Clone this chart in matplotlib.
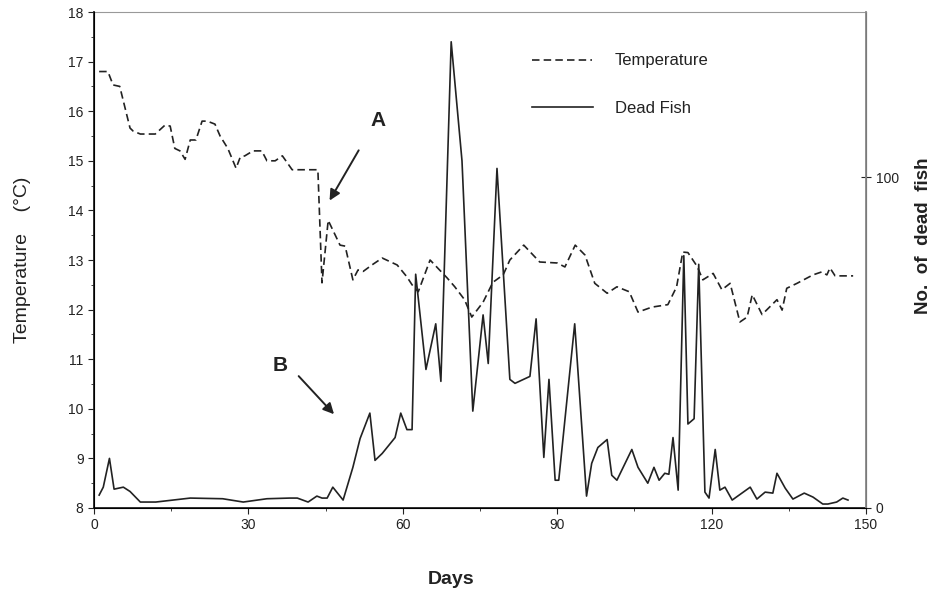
import matplotlib.pyplot as plt
from matplotlib.ticker import MultipleLocator

plt.rcParams['font.family'] = ['Liberation Sans', 'DejaVu Sans']

# temperature readings (left axis, deg C)
temp_days = [1, 2.7, 3.7, 5, 7, 7.6, 9, 11.9, 13.8, 14.8, 15.7, 16.7, 17.7, 18.7, 19.8,
             21, 22, 23.5, 24.5, 26, 27.6, 28.4, 29.3, 30.9, 32.6, 33.6, 35.2, 36.6, 38.5,
             43.5, 44.3, 45.5, 47.8, 48.8, 50.3, 51.3, 52.3, 54, 56, 58.9, 60.8, 61.8, 63,
             65.3, 68.6, 70.1, 72, 73.4, 75.6, 77.5, 79.5, 80.8, 83.5, 86.6, 90, 91.5, 93.5,
             95.4, 97.3, 99.7, 101.6, 104, 105.7, 108.4, 111.5, 113.2, 114.4, 115.4, 117.2,
             118.3, 120.3, 122, 123.6, 125.5, 126.9, 127.9, 129.8, 132.7, 133.7, 134.6,
             136.6, 139.7, 141.4, 142.4, 143, 144, 147.5]
temp_vals = [16.8, 16.8, 16.53, 16.5, 15.66, 15.6, 15.54, 15.54, 15.72, 15.7, 15.25, 15.2,
             15.03, 15.42, 15.42, 15.8, 15.8, 15.74, 15.5, 15.25, 14.85, 15.07, 15.1, 15.2,
             15.2, 15.0, 15.0, 15.1, 14.82, 14.82, 12.54, 13.8, 13.3, 13.28, 12.6, 12.8,
             12.77, 12.9, 13.04, 12.9, 12.66, 12.5, 12.36, 13.0, 12.64, 12.46, 12.2, 11.85,
             12.15, 12.55, 12.7, 13.0, 13.3, 12.96, 12.94, 12.86, 13.3, 13.1, 12.53, 12.33,
             12.46, 12.36, 11.95, 12.05, 12.1, 12.46, 13.16, 13.15, 12.87, 12.6, 12.73, 12.4,
             12.53, 11.75, 11.85, 12.3, 11.9, 12.2, 11.99, 12.43, 12.53, 12.7, 12.76, 12.7,
             12.84, 12.68, 12.68]

# number of dead fish (right axis)
fish_days = [1, 1.8, 3, 3.9, 5.7, 7, 9, 12, 18.7, 25, 29, 33.6, 38, 39.5, 41.6, 43.3, 44.3,
             45.3, 46.4, 48.4, 50.3, 51.7, 53.6, 54.6, 56, 58.5, 59.6, 60.8, 61.8, 62.5, 64.5,
             66.4, 67.4, 69.4, 71.5, 73.6, 75.6, 76.6, 78.3, 80.8, 81.8, 84.7, 85.9, 87.4,
             88.4, 89.6, 90.3, 93.4, 95.7, 96.7, 97.9, 99.7, 100.6, 101.6, 104.5, 105.7,
             107.6, 108.8, 109.8, 110.9, 111.7, 112.5, 113.5, 114.6, 115.4, 116.6, 117.5,
             118.7, 119.5, 120.7, 121.6, 122.6, 124, 127.5, 128.8, 130.4, 131.9, 132.7,
             134.3, 135.8, 138, 139.7, 141.6, 142.6, 144.3, 145.5, 146.5]
fish_vals = [3.9, 6.3, 15, 5.7, 6.3, 5, 1.8, 1.8, 3, 2.8, 1.8, 2.8, 3, 3, 1.8, 3.6, 3, 3,
             6.3, 2.4, 12.3, 21, 28.7, 14.4, 16.5, 21.3, 28.7, 23.7, 23.7, 70.7, 41.9, 55.7,
             38.3, 141, 105, 29.3, 58.4, 43.7, 102.7, 38.9, 37.7, 39.8, 57.2, 15.3, 38.9, 8.4,
             8.4, 55.7, 3.6, 13.5, 18.3, 20.7, 9.9, 8.4, 17.7, 12.3, 7.5, 12.3, 8.4, 10.5,
             10.2, 21.3, 5.4, 76.3, 25.4, 27, 73.7, 4.8, 3, 17.7, 5.4, 6.3, 2.4, 6.3, 2.7,
             4.8, 4.5, 10.5, 6, 2.7, 4.5, 3.3, 1.2, 1.2, 1.8, 3, 2.4]

ink = '#222222'
dash = (4.5, 2.5)

fig = plt.figure(figsize=(9.41, 5.92), dpi=100)
ax = fig.add_axes([0.0999, 0.1419, 0.8204, 0.8378])
ax2 = ax.twinx()

ax.plot(temp_days, temp_vals, color=ink, lw=1.2, dashes=dash)
ax2.plot(fish_days, fish_vals, color=ink, lw=1.2)

ax.set_xlim(0, 150)
ax.set_ylim(8, 18)
ax2.set_ylim(0, 150)

ax.xaxis.set_major_locator(MultipleLocator(30))
ax.xaxis.set_minor_locator(MultipleLocator(15))
ax.yaxis.set_major_locator(MultipleLocator(1))
ax.yaxis.set_minor_locator(MultipleLocator(0.5))
ax.tick_params(axis='both', which='major', direction='out', length=4, labelsize=10,
               color=ink, labelcolor=ink)
ax.tick_params(axis='both', which='minor', direction='out', length=2.5, color=ink)
ax2.set_yticks([0, 100])
ax2.tick_params(axis='y', direction='inout', length=7, labelsize=10, color=ink,
                labelcolor=ink)

for s in ['left', 'bottom']:
    ax.spines[s].set_color(ink)
    ax.spines[s].set_linewidth(1.3)
ax.spines['top'].set_color('#999999')
ax2.spines['top'].set_visible(False)
ax2.spines['right'].set_color('#888888')
ax2.spines['right'].set_linewidth(1.3)

# axis titles placed in figure pixels
W, H = 941, 592
fig.text(23 / W, 1 - 260 / H, 'Temperature    (°C)', fontsize=14, color=ink,
         rotation=90, ha='center', va='center')
fig.text(923 / W, 1 - 236 / H, 'No.  of  dead  fish', fontsize=13.5, fontweight='bold',
         color=ink, rotation=90, ha='center', va='center')
fig.text(451 / W, 1 - 580 / H, 'Days', fontsize=14, fontweight='bold', color=ink,
         ha='center', va='center')

# annotations
ax.annotate('', xy=(45.5, 14.15), xytext=(51.7, 15.26),
            arrowprops=dict(arrowstyle='-|>', color=ink, lw=1.4, mutation_scale=16))
ax.text(55.2, 15.82, 'A', fontsize=15, fontweight='bold', color=ink, ha='center', va='center')
ax.annotate('', xy=(47, 9.85), xytext=(39.4, 10.7),
            arrowprops=dict(arrowstyle='-|>', color=ink, lw=1.4, mutation_scale=16))
ax.text(36.1, 10.88, 'B', fontsize=15, fontweight='bold', color=ink, ha='center', va='center')

# legend drawn in axes coordinates
ax.plot([0.567, 0.645], [0.903, 0.903], transform=ax.transAxes, color=ink, lw=1.2,
        dashes=dash)
ax.plot([0.567, 0.647], [0.808, 0.808], transform=ax.transAxes, color=ink, lw=1.2)
ax.text(0.675, 0.903, 'Temperature', transform=ax.transAxes, fontsize=12, color=ink,
        va='center')
ax.text(0.675, 0.806, 'Dead Fish', transform=ax.transAxes, fontsize=12, color=ink,
        va='center')

fig.savefig('out.png', dpi=100)
